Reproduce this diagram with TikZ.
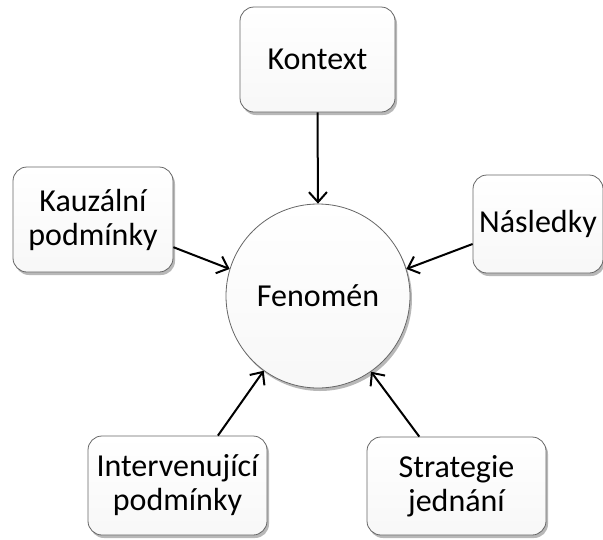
\documentclass[tikz,border=0pt]{standalone}
\usepackage{fontspec}
\setmainfont{Carlito}
\usetikzlibrary{arrows.meta,shadows}
\tikzset{
  lbl/.style={font=\fontsize{32}{34}\selectfont, align=center, text=black},
  softshadow/.style={drop shadow={shadow xshift=2pt, shadow yshift=-3pt, opacity=0.28, fill=black}},
  rbox/.style={lbl, rectangle, rounded corners=14pt, draw=black!60, line width=0.8pt,
    top color=white, bottom color=black!3, softshadow, inner sep=0pt},
  circ/.style={lbl, circle, draw=black!60, line width=0.8pt, top color=white, bottom color=black!3,
    softshadow, inner sep=0pt, minimum size=184pt},
  arr/.style={line width=2pt, -{Straight Barb[length=10pt,width=18pt,line width=2pt]}}
}
\begin{document}
\begin{tikzpicture}[x=1pt,y=-1pt]
\useasboundingbox (0,0) rectangle (603,539);
\node[circ] (fen) at (318,296) {Fenomén};
\node[rbox, minimum width=155pt, minimum height=105pt] (kont) at (317.5,59.5) {Kontext};
\node[rbox, minimum width=160pt, minimum height=105pt] (kauz) at (93,219.5) {Kauzální\\podmínky};
\node[rbox, minimum width=130pt, minimum height=98pt] (nasl) at (538,224) {Následky};
\node[rbox, minimum width=179pt, minimum height=99pt] (interv) at (177.5,485.5) {Intervenující\\podmínky};
\node[rbox, minimum width=179pt, minimum height=98pt] (strat) at (456.5,486) {Strategie\\jednání};
\draw[arr] (kont.south) -- (fen.north);
\draw[arr] (kauz.-19) -- (fen.163);
\draw[arr] (nasl.197) -- (fen.17);
\draw[arr] (interv.51) -- (fen.234);
\draw[arr] (strat.127) -- (fen.305);
\end{tikzpicture}
\end{document}
